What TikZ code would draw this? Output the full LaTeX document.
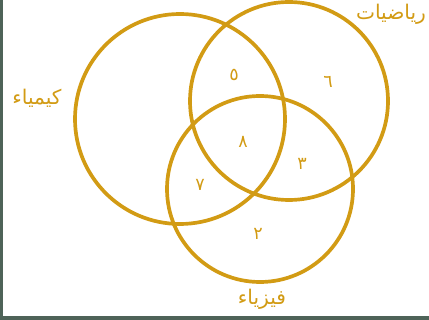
\documentclass[tikz,border=0pt]{standalone}
\usepackage{fontspec}
\newfontfamily\arabicfont[Script=Arabic]{DejaVu Sans}
\TeXXeTstate=1
\usepackage{xcolor}
\usepackage{tikz}
\definecolor{gold}{RGB}{210,155,20}
\definecolor{frame}{RGB}{78,99,88}
\tikzset{
  ring/.style={draw=gold,line width=2.1pt},
  subj/.style={text=gold,font=\arabicfont\fontsize{11.5}{13}\selectfont,inner sep=0pt},
  count/.style={text=gold,font=\arabicfont\fontsize{10}{12}\selectfont,inner sep=0pt}
}
\begin{document}
\begin{tikzpicture}[x=0.02cm,y=-0.02cm]
\useasboundingbox (0,0) rectangle (429,320);
% frame
\fill[frame] (0,0) rectangle (3,320);
\fill[frame] (0,316) rectangle (429,320);
% circles
\draw[ring] (180,119) circle[radius=105];
\draw[ring] (289,101) circle[radius=99];
\draw[ring] (260,189) circle[radius=93];
% subjects
\node[subj] (chem) at (37,98) {\beginR كيمياء\endR};
\node[subj] (math) at (391,14) {\beginR رياضيات\endR};
\node[subj] (phys) at (262,299) {\beginR فيزياء\endR};
% counts
\node[count] (cm) at (234,75) {٥};
\node[count] (m) at (328,82) {٦};
\node[count] (all) at (243,142) {٨};
\node[count] (mp) at (302,164) {٣};
\node[count] (cp) at (200,185) {٧};
\node[count] (p) at (258,234) {٢};
\end{tikzpicture}
\end{document}
